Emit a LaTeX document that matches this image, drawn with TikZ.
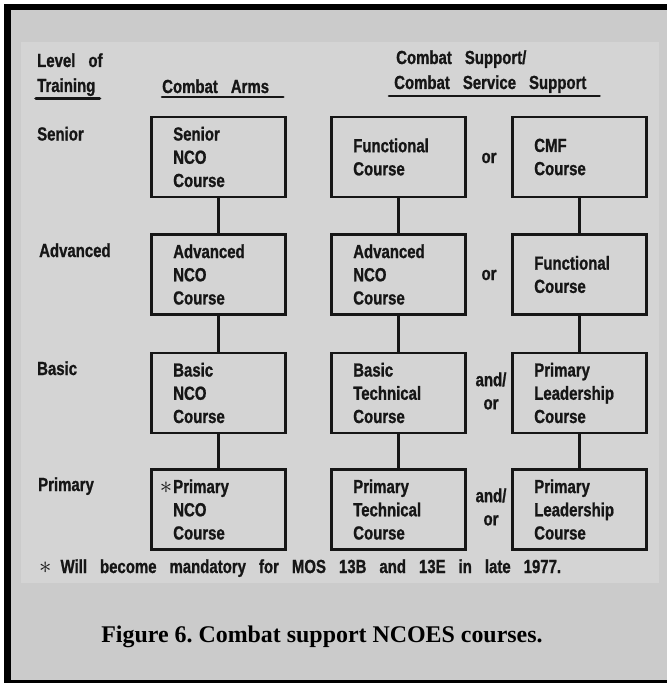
\documentclass[tikz,border=0pt]{standalone}
\usepackage{fontspec}
\setmainfont{Liberation Serif}
\newfontfamily\cond[FakeStretch=0.79,FakeBold=1]{Liberation Sans}
\usetikzlibrary{calc}
\definecolor{bggray}{RGB}{203,203,203}
\definecolor{scangray}{RGB}{212,212,212}
\definecolor{ink}{RGB}{22,22,22}
\newcommand{\boxfont}{\cond\bfseries\fontsize{19}{23.3}\selectfont\spaceskip=13bp plus 2bp\relax}
\newcommand{\bigast}{{\fontsize{30}{30}\selectfont$\ast$}}
\tikzset{
  box/.style={draw=ink, line width=2.6bp, minimum width=134.5bp, minimum height=80bp,
    inner xsep=22bp, inner ysep=0pt, text width=90.5bp, align=left, font=\boxfont, text=ink},
  rowlbl/.style={anchor=base west, font=\boxfont, text=ink, inner sep=0pt},
  hdr/.style={anchor=base west, font=\boxfont, text=ink, inner sep=0pt},
  conj/.style={font=\boxfont, text=ink, inner sep=0pt, align=center},
  conn/.style={draw=ink, line width=2.6bp},
  uline/.style={draw=ink, line width=2.6bp, line cap=round}
}
\begin{document}
\frenchspacing
\begin{tikzpicture}[x=1bp,y=-1bp]
\useasboundingbox (0,0) rectangle (667,683);
\fill[white] (0,0) rectangle (667,683);
\fill[black] (4,4) rectangle (667,683);
\fill[bggray] (11,10) rectangle (667,680);
\fill[scangray] (21,42) rectangle (659,583);

% headers
\node[hdr] (lvl) at (37,67) {Level of};
\node[hdr] (trn) at (37,92) {Training};
\node[hdr] (arms) at (162,93) {Combat Arms};
\node[hdr] (cs) at (396,64) {Combat Support/};
\node[hdr] (css) at (394,89) {Combat Service Support};
\draw[uline, line width=3.6bp] ($(trn.base west)+(-1,6.5)$) -- ($(trn.base east)+(4,6.5)$);
\draw[uline] ($(arms.base west)+(0,4)$) -- ($(arms.base east)+(14,4)$);
\draw[uline] ($(css.base west)+(-5,7)$) -- ($(css.base east)+(13,7)$);

% row labels
\node[rowlbl] (lsen) at (37,140.5) {Senior};
\node[rowlbl] (ladv) at (39,257) {Advanced};
\node[rowlbl] (lbas) at (37,375) {Basic};
\node[rowlbl] (lpri) at (38,491) {Primary};

% column 1: combat arms
\node[box] (a1) at (218.5,157) {Senior\\NCO\\Course};
\node[box] (a2) at (218.5,274.5) {Advanced\\NCO\\Course};
\node[box] (a3) at (218.5,393) {Basic\\NCO\\Course};
\node[box] (a4) at (218.5,509.5) {\llap{\bigast\hspace{1bp}}Primary\\NCO\\Course};

% column 2
\node[box] (b1) at (398.5,157) {Functional\\Course};
\node[box] (b2) at (398.5,274.5) {Advanced\\NCO\\Course};
\node[box] (b3) at (398.5,393) {Basic\\Technical\\Course};
\node[box] (b4) at (398.5,509.5) {Primary\\Technical\\Course};

% column 3
\node[box] (c1) at (579.5,157) {CMF\\Course};
\node[box] (c2) at (579.5,274.5) {Functional\\Course};
\node[box] (c3) at (579.5,393) {Primary\\Leadership\\Course};
\node[box] (c4) at (579.5,509.5) {Primary\\Leadership\\Course};

% conjunctions
\node[conj, anchor=base] (o1) at (489,163) {or};
\node[conj, anchor=base] (o2) at (489,280) {or};
\node[conj] (o3) at (491,391) {and/\\or};
\node[conj] (o4) at (491,507) {and/\\or};

% connectors
\draw[conn] (a1) -- (a2);
\draw[conn] (a2) -- (a3);
\draw[conn] (a3) -- (a4);
\draw[conn] (b1) -- (b2);
\draw[conn] (b2) -- (b3);
\draw[conn] (b3) -- (b4);
\draw[conn] (c1) -- (c2);
\draw[conn] (c2) -- (c3);
\draw[conn] (c3) -- (c4);

% footnote
\node[hdr] (note) at (39,573) {\bigast\hspace{9bp}Will become mandatory for MOS 13B and 13E in late 1977.};

% caption
\node[font=\fontsize{24}{28}\selectfont\bfseries, text=black, inner sep=0pt] (cap) at (322,637) {Figure 6. Combat support NCOES courses.};
\end{tikzpicture}
\end{document}
